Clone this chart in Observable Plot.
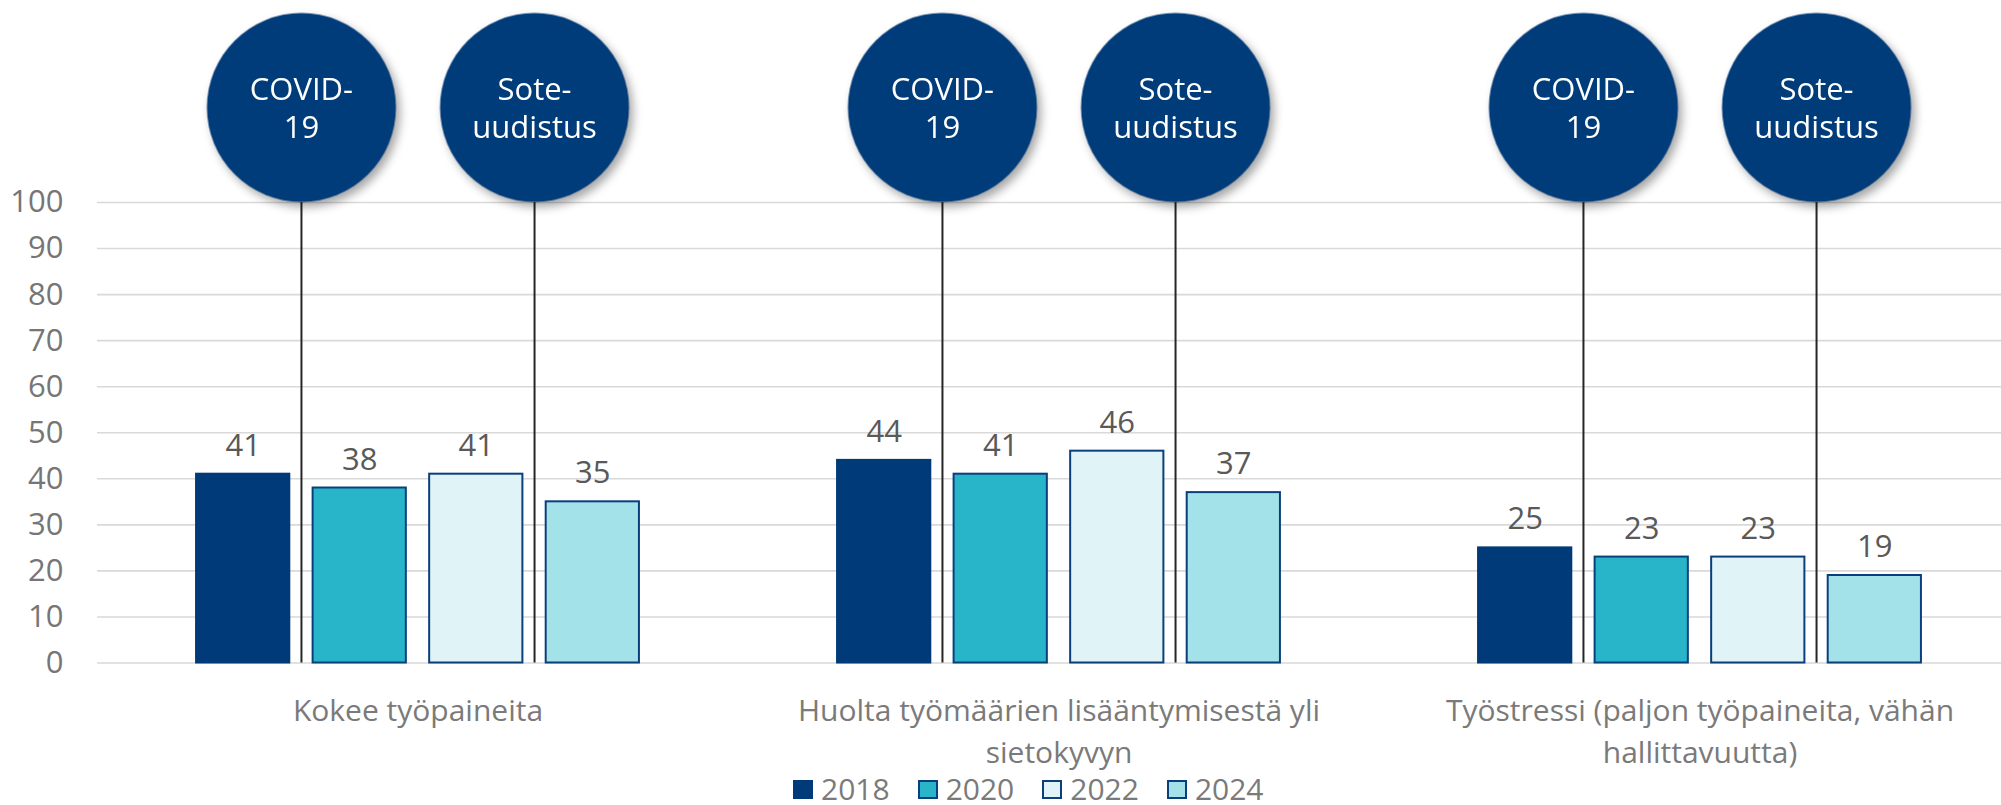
<!DOCTYPE html>
<html>
<head>
<meta charset="utf-8">
<script src="https://cdn.jsdelivr.net/npm/d3@7"></script>
<script src="https://cdn.jsdelivr.net/npm/@observablehq/plot@0.6"></script>
<style>
  html, body { margin: 0; padding: 0; background: #ffffff; }
  body { width: 2001px; height: 805px; overflow: hidden; font-family: "Open Sans", sans-serif; }
  #chart svg { display: block; }
  #legend { display: flex; align-items: center; height: 28px; line-height: 28px; margin-left: 793px; margin-top: 3px; font-size: 30px; color: #7a7a7a; }
  .item { display: flex; align-items: center; margin-right: 28px; height: 28px; }
  .item span { display: block; height: 28px; line-height: 28px; }
  .sw { width: 20px; height: 19px; box-sizing: border-box; margin-right: 8px; }
</style>
</head>
<body>
<div id="chart"></div>
<div id="legend"></div>
<script>
// ---- data ----
const categories = [
  "Kokee työpaineita",
  "Huolta työmäärien lisääntymisestä yli sietokyvyn",
  "Työstressi (paljon työpaineita, vähän hallittavuutta)"
];
const categoryLabels = [
  "Kokee työpaineita",
  "Huolta työmäärien lisääntymisestä yli\nsietokyvyn",
  "Työstressi (paljon työpaineita, vähän\nhallittavuutta)"
];
const years = [2018, 2020, 2022, 2024];
const values2018 = [41, 44, 25];
const values2020 = [38, 41, 23];
const values2022 = [41, 46, 23];
const values2024 = [35, 37, 19];
const eventLabels = ["COVID-\n19", "Sote-\nuudistus"];
const eventYears = [2019, 2023];
const yTicks = [0, 10, 20, 30, 40, 50, 60, 70, 80, 90, 100];

// ---- styles ----
const fillColors = ["#003A78", "#29B5C9", "#E0F4F8", "#A4E2EA"];
const strokeColors = ["#003A78", "#0B3F7C", "#0B3F7C", "#0B3F7C"];

// ---- tables ----
const seriesValues = [values2018, values2020, values2022, values2024];
const rows = [];
categories.forEach((c, i) => {
  years.forEach((y, j) => {
    rows.push({category: c, year: y, value: seriesValues[j][i]});
  });
});
const events = eventYears.map((y, i) => ({year: y, label: eventLabels[i]}));
const halfBar = 0.8;

const chart = Plot.plot({
  width: 2001,
  height: 772,
  marginLeft: 97,
  marginRight: -19,
  marginTop: 202,
  marginBottom: 109.5,
  style: {fontFamily: "Open Sans", background: "#ffffff", overflow: "visible"},
  fx: {domain: categories, padding: 0, axis: null},
  x: {domain: [2015.5, 2026.5], axis: null},
  y: {domain: [0, 100], axis: null},
  color: {domain: years, range: fillColors},
  marks: [
    Plot.gridY({ticks: yTicks, stroke: "#d9d9d9", strokeOpacity: 1, strokeWidth: 1.6}),
    Plot.axisY({ticks: yTicks, tickSize: 0, tickPadding: 34, fontSize: 31, fill: "#767676", label: null}),
    Plot.axisFx({
      anchor: "bottom", tickSize: 0, tickPadding: 28.5, fontSize: 30, lineHeight: 1.4,
      fill: "#7a7a7a", label: null,
      tickFormat: d => categoryLabels[categories.indexOf(d)]
    }),
    Plot.rectY(rows, {
      fx: "category",
      x1: d => d.year - halfBar,
      x2: d => d.year + halfBar,
      y: "value",
      fill: "year",
      stroke: d => strokeColors[years.indexOf(d.year)],
      strokeWidth: 2
    }),
    Plot.text(rows, {
      fx: "category",
      x: "year",
      y: "value",
      text: d => String(d.value),
      dy: -18.5,
      lineAnchor: "bottom",
      fontSize: 31,
      fill: "#595959"
    }),
    Plot.ruleX(events, {x: "year", y1: 0, y2: 100, stroke: "#262626", strokeWidth: 2}),
    Plot.dot(events, {x: "year", y: 100, dy: -95, r: 94.5, fill: "#003B7A", stroke: null}),
    Plot.text(events, {
      x: "year", y: 100, dy: -96, text: "label",
      fontSize: 31, lineHeight: 1.226, fill: "#ffffff", lineAnchor: "middle"
    })
  ]
});
document.getElementById("chart").appendChild(chart);
d3.select(chart).selectAll('g[aria-label="dot"]')
  .style("filter", "drop-shadow(4px 5px 5px rgba(0,0,0,0.35))");

// ---- legend ----
const legend = d3.select("#legend");
years.forEach((y, j) => {
  const item = legend.append("div").attr("class", "item");
  item.append("div").attr("class", "sw")
    .style("background", fillColors[j])
    .style("border", `2px solid ${strokeColors[j]}`);
  item.append("span").text(String(y));
});
</script>
</body>
</html>
